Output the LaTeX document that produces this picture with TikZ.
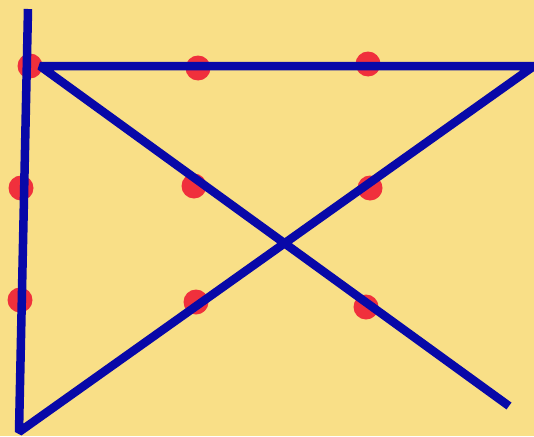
\documentclass[tikz,border=0pt]{standalone}
\begin{document}
\begin{tikzpicture}[x=1pt,y=-1pt,
  dot/.style={circle,fill=dotred,inner sep=0pt,minimum size=25pt},
  pen/.style={draw=penblue,line width=8.5pt,line join=bevel}]
\definecolor{bg}{RGB}{249,223,135}
\definecolor{dotred}{RGB}{240,48,60}
\definecolor{penblue}{RGB}{8,8,168}
\fill[bg] (0,0) rectangle (534,436);
\useasboundingbox (0,0) rectangle (534,436);
% dots
\node[dot] (d11) at (30,66) {};
\node[dot] (d12) at (198,68) {};
\node[dot] (d13) at (368,64) {};
\node[dot] (d21) at (21,188) {};
\node[dot] (d22) at (194,186) {};
\node[dot] (d23) at (370,188) {};
\node[dot] (d31) at (20,300) {};
\node[dot] (d32) at (196,302) {};
\node[dot] (d33) at (366,307) {};
% path of four lines
\coordinate (p0) at (28,9);
\coordinate (p1) at (19,432);
\coordinate (p2) at (534,66);
\coordinate (p3) at (40,66);
\coordinate (p4) at (509,406);
\draw[pen] (p0) -- (p1) -- (p2) -- (p3) -- (p4);
\end{tikzpicture}
\end{document}
